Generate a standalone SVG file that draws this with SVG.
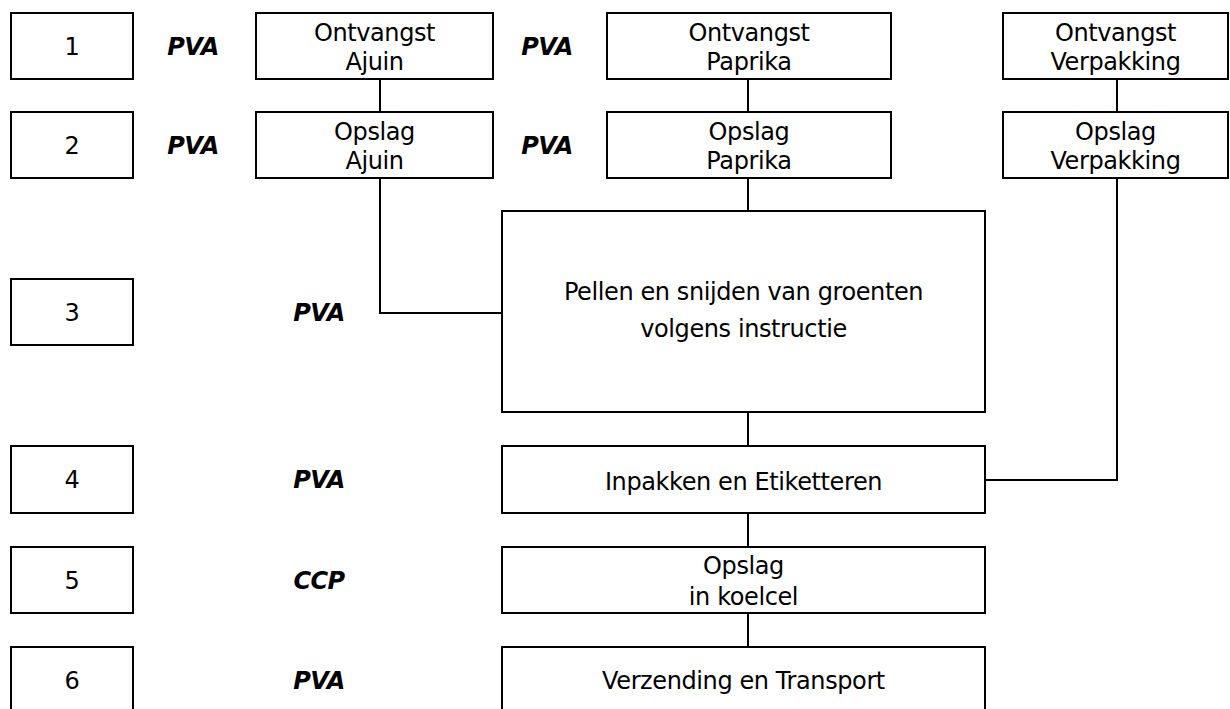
<svg xmlns="http://www.w3.org/2000/svg" width="1230" height="709" viewBox="0 0 1230 709">
<style>
rect{fill:#fff;stroke:#000;stroke-width:2}
.c path{fill:none;stroke:#000;stroke-width:2}
text{font-family:"DejaVu Sans","Liberation Sans",sans-serif;font-size:24px;letter-spacing:-0.4px;text-anchor:middle;fill:#000}
.b{font-weight:bold;font-style:italic;letter-spacing:-0.6px}
</style>
<rect width="1230" height="709" style="stroke:none"/>
<g class="c" id="connectors">
<path d="M380 79V112"/>
<path d="M748 79V112"/>
<path d="M1117 79V112"/>
<path d="M380 178V313H502"/>
<path d="M748 178V211"/>
<path d="M748 412V446"/>
<path d="M1117 178V480H985"/>
<path d="M748 513V547"/>
<path d="M748 613V647"/>
</g>
<g id="step1"><rect x="11" y="13" width="122" height="66"/><text x="72" y="55">1</text></g>
<g id="step2"><rect x="11" y="112" width="122" height="66"/><text x="72" y="154">2</text></g>
<g id="step3"><rect x="11" y="279" width="122" height="66"/><text x="72" y="321">3</text></g>
<g id="step4"><rect x="11" y="446" width="122" height="67"/><text x="72" y="488">4</text></g>
<g id="step5"><rect x="11" y="547" width="122" height="66"/><text x="72" y="589">5</text></g>
<g id="step6"><rect x="11" y="647" width="122" height="66"/><text x="72" y="689">6</text></g>
<g id="labels">
<text class="b" x="193" y="55">PVA</text>
<text class="b" x="547" y="55">PVA</text>
<text class="b" x="193" y="154">PVA</text>
<text class="b" x="547" y="154">PVA</text>
<text class="b" x="319" y="321">PVA</text>
<text class="b" x="319" y="488">PVA</text>
<text class="b" x="319" y="589">CCP</text>
<text class="b" x="319" y="689">PVA</text>
</g>
<g id="ontvangst-ajuin"><rect x="256" y="13" width="237" height="66"/><text x="374.5" y="41">Ontvangst</text><text x="374.5" y="70">Ajuin</text></g>
<g id="ontvangst-paprika"><rect x="607" y="13" width="284" height="66"/><text x="749" y="41">Ontvangst</text><text x="749" y="70">Paprika</text></g>
<g id="ontvangst-verpakking"><rect x="1003" y="13" width="225" height="66"/><text x="1115.5" y="41">Ontvangst</text><text x="1115.5" y="70">Verpakking</text></g>
<g id="opslag-ajuin"><rect x="256" y="112" width="237" height="66"/><text x="374.5" y="140">Opslag</text><text x="374.5" y="169">Ajuin</text></g>
<g id="opslag-paprika"><rect x="607" y="112" width="284" height="66"/><text x="749" y="140">Opslag</text><text x="749" y="169">Paprika</text></g>
<g id="opslag-verpakking"><rect x="1003" y="112" width="225" height="66"/><text x="1115.5" y="140">Opslag</text><text x="1115.5" y="169">Verpakking</text></g>
<g id="pellen"><rect x="502" y="211" width="483" height="201"/><text x="743.5" y="300">Pellen en snijden van groenten</text><text x="743.5" y="337">volgens instructie</text></g>
<g id="inpakken"><rect x="502" y="446" width="483" height="67"/><text x="743.5" y="490">Inpakken en Etiketteren</text></g>
<g id="koelcel"><rect x="502" y="547" width="483" height="66"/><text x="743.5" y="574">Opslag</text><text x="743.5" y="605">in koelcel</text></g>
<g id="verzending"><rect x="502" y="647" width="483" height="66"/><text x="743.5" y="689">Verzending en Transport</text></g>
</svg>
